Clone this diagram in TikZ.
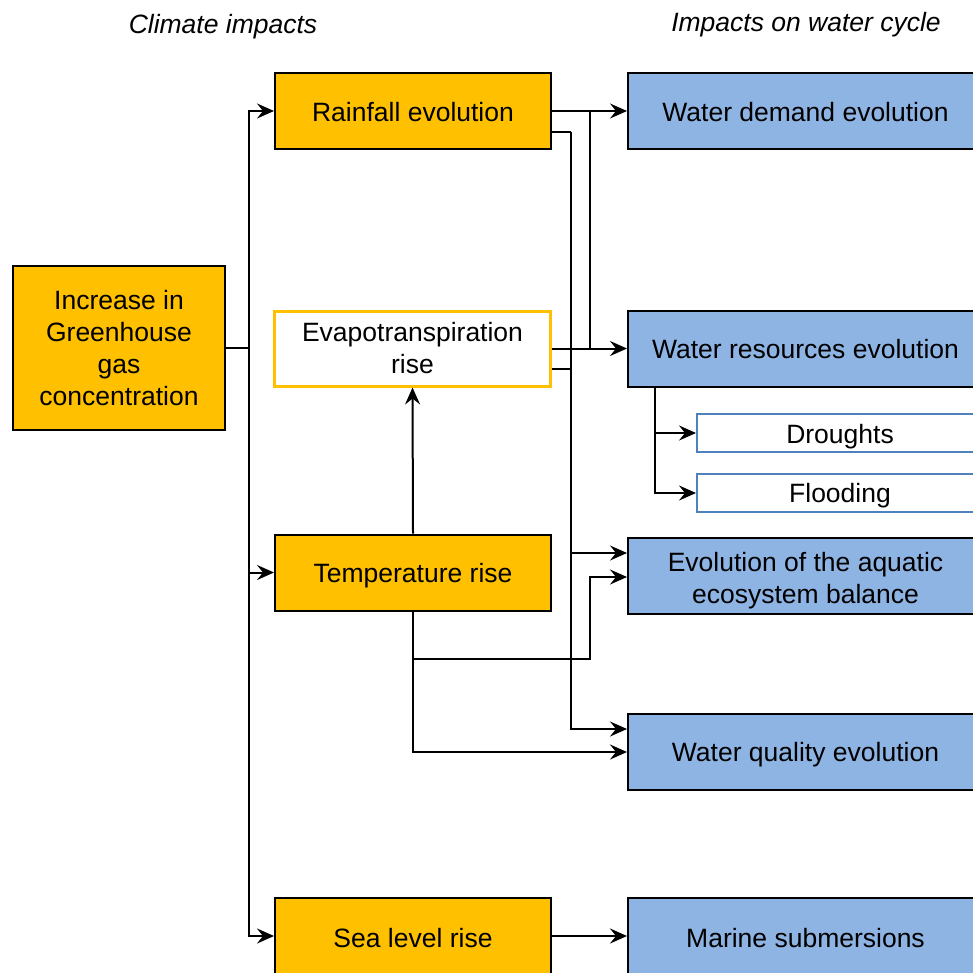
\documentclass[tikz,border=0pt]{standalone}
\usepackage{fontspec}
\setmainfont{Liberation Sans}
\usetikzlibrary{arrows.meta,calc}
\definecolor{amber}{RGB}{255,192,0}
\definecolor{skyfill}{RGB}{142,180,227}
\definecolor{skyline}{RGB}{79,129,189}
% lower a label inside its box without changing the box size
\newcommand{\lowered}[2]{\raisebox{-#1}[\height][\depth]{#2}}
\newcommand{\loweredpair}[2]{\raisebox{-#1}[\height][\depth]{\begin{tabular}{@{}c@{}}#2\end{tabular}}}
\tikzset{
  box/.style={draw=black, line width=2pt, inner sep=0pt, align=center,
    font=\fontsize{26.5}{32}\selectfont},
  cause/.style={box, fill=amber, minimum width=276pt, minimum height=76pt},
  causewhite/.style={box, draw=amber, line width=3pt, fill=white, minimum width=276pt, minimum height=75pt},
  effect/.style={box, fill=skyfill, minimum width=355pt, minimum height=76pt},
  subeffect/.style={box, draw=skyline, fill=white, minimum width=286pt, minimum height=38pt},
  heading/.style={font=\fontsize{26.5}{32}\selectfont\itshape},
  link/.style={line width=2pt, line join=miter},
  arr/.style={link, -{Stealth[length=17pt,width=15pt,inset=6pt]}},
}
\begin{document}
\begin{tikzpicture}[x=1pt,y=-1pt]
\useasboundingbox (0,0) rectangle (973,972);
\clip (0,0) rectangle (973,972);
\fill[white] (0,0) rectangle (973,972);

% column headings
\node[heading] (hleft) at (223,27) {Climate impacts};
\node[heading] (hright) at (806,25) {Impacts on water cycle};

% driver
\node[box, fill=amber, minimum width=212pt, minimum height=164pt] (ghg) at (119,348)
  {Increase in\\Greenhouse\\gas\\concentration};

% climate impacts
\node[cause] (rain) at (413,111) {\lowered{1pt}{Rainfall evolution}};
\node[causewhite] (evap) at (412.5,348.5) {Evapotranspiration\\rise};
\node[cause] (temp) at (413,572.5) {\lowered{3pt}{Temperature rise}};
\node[cause] (sea) at (413,936) {\lowered{2pt}{Sea level rise}};

% impacts on the water cycle
\node[effect] (demand) at (805.5,111) {\lowered{1pt}{Water demand evolution}};
\node[effect] (resources) at (805.5,348.5) {\lowered{1pt}{Water resources evolution}};
\node[subeffect] (drought) at (840,433) {\lowered{4pt}{Droughts}};
\node[subeffect] (flood) at (840,493) {\lowered{3pt}{Flooding}};
\node[effect] (aquatic) at (805.5,575.5) {\loweredpair{5.5pt}{Evolution of the aquatic\\ecosystem balance}};
\node[effect] (quality) at (805.5,752) {\lowered{3pt}{Water quality evolution}};
\node[effect] (marine) at (805.5,936) {\lowered{2pt}{Marine submersions}};

% routing points
\coordinate (trunk) at (249,348);
\coordinate (railA) at (590,111);
\coordinate (railB) at (571,132);
\coordinate (rainlow) at ([yshift=-21pt]rain.east);
\coordinate (evaplow) at ([yshift=-20pt]evap.east);
\coordinate (aqhigh) at ([yshift=22.5pt]aquatic.west);
\coordinate (aqlow) at ([yshift=-1.5pt]aquatic.west);
\coordinate (qhigh) at ([yshift=23pt]quality.west);
\coordinate (tbend) at (413,659);
\coordinate (tturn) at (590,659);
\coordinate (rsplit) at (655,386);

% greenhouse gases feed three climate impacts
\draw[link] (ghg.east) -- (trunk);
\draw[arr] (trunk) |- (rain.west);
\draw[arr] (trunk) |- (temp.west);
\draw[arr] (trunk) |- (sea.west);

% rainfall and evapotranspiration towards water demand and resources
\draw[arr] (rain.east) -- (demand.west);
\draw[link] (railA) -- (railA |- evap.east);
\draw[arr] (evap.east) -- (resources.west);

% second rail towards ecosystems and water quality
\draw[link] (rainlow) -- (railB);
\draw[arr] (railB) |- (qhigh);
\draw[arr] (railB |- aqhigh) -- (aqhigh);
\draw[link] (evaplow) -- (railB |- evaplow);

% temperature
\draw[arr] (temp.north) -- (evap.south);
\draw[arr] (temp.south) |- (quality.west);
\draw[arr] (tbend) -- (tturn) |- (aqlow);

% water resources split
\draw[arr] (rsplit) |- (drought.west);
\draw[arr] (rsplit) |- (flood.west);

% sea level
\draw[arr] (sea.east) -- (marine.west);
\end{tikzpicture}
\end{document}
